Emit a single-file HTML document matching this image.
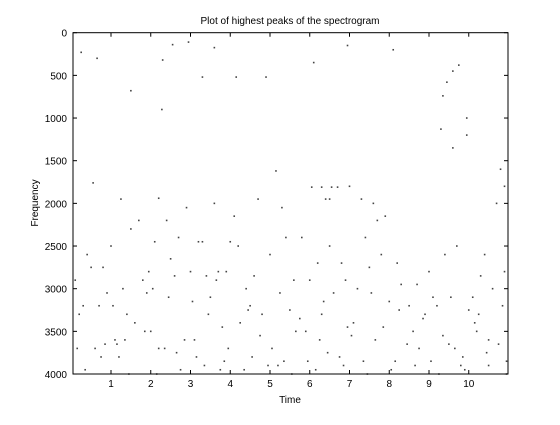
<!DOCTYPE html>
<html><head><meta charset="utf-8"><style>
body{margin:0;background:#fff;font-family:"Liberation Sans",sans-serif}
svg text{font-family:"Liberation Sans",sans-serif;font-size:10px}
</style></head><body>
<svg id="c" width="560" height="420">
<rect width="560" height="420" fill="#fff"/>
<text x="290" y="24" text-anchor="middle">Plot of highest peaks of the spectrogram</text>
<text x="290" y="403" text-anchor="middle">Time</text>
<text transform="translate(38,203) rotate(-90)" text-anchor="middle">Frequency</text>
<g id="ticks"></g><g id="pts"></g>
<rect x="73" y="32.7" width="435" height="341.3" fill="none" stroke="#000"/>
</svg>
<script>
const xTicks=[1,2,3,4,5,6,7,8,9,10];
const yTicks=[0,500,1000,1500,2000,2500,3000,3500,4000];
const times=[0.25,0.65,1.5,2.3,2.28,2.55,2.95,3.3,3.6,4.15,4.9,6.1,6.95,8.1,9.6,9.75,9.45,9.35,9.95,9.95,9.6,9.3,0.55,1.25,2.2,5.15,6.05,6.3,6.55,6.7,6.4,6.5,7.0,7.3,7.6,7.9,5.3,4.7,10.8,10.9,10.7,3.6,4.1,
0.1,0.3,0.5,0.6,0.8,0.9,1.0,1.1,1.2,1.3,1.4,1.5,1.7,1.8,1.9,2.0,2.1,2.2,2.4,2.5,2.6,2.7,2.9,3.0,3.1,3.2,3.3,3.4,3.5,3.7,3.8,3.9,4.0,4.2,4.4,4.5,4.6,4.8,5.0,5.2,5.4,5.5,5.6,5.8,5.9,6.0,6.2,6.3,6.5,6.6,6.8,6.9,7.1,7.2,7.4,7.5,7.7,7.8,8.0,8.2,8.3,8.5,8.6,8.7,8.9,9.0,9.1,9.2,9.4,9.5,9.7,9.8,10.0,10.1,10.2,10.3,10.4,10.5,10.6,10.9,
0.2,0.4,0.7,0.85,1.05,1.35,1.6,1.85,2.05,2.35,2.65,2.85,3.15,3.45,3.75,3.95,4.25,4.55,4.75,5.05,5.35,5.65,5.95,6.25,6.45,6.75,7.05,7.35,7.65,7.85,8.15,8.45,8.75,9.05,9.35,9.65,9.85,10.15,10.45,10.75,10.95,
0.15,0.75,1.45,2.15,2.75,3.35,3.85,4.35,4.95,5.55,6.15,6.85,7.45,8.05,8.65,9.25,9.9,10.5,10.95,
0.35,1.15,1.95,2.45,3.05,3.65,4.45,5.25,5.75,6.35,6.95,7.55,8.25,8.85,9.55,10.25,10.85];
const freqs=[230,300,680,320,900,140,110,520,175,520,520,350,150,200,450,380,580,740,1000,1200,1350,1130,1760,1950,1940,1620,1810,1810,1810,1810,1950,1950,1800,1950,2000,2150,2050,1950,1600,1800,2000,2000,2150,
2900,3200,2750,3700,2750,3050,2500,3600,3800,3000,3300,2300,2200,2900,3050,3500,2450,3700,2200,2650,2850,2400,2050,2800,3600,2450,2450,2850,3100,2800,3450,2800,2450,2500,3000,3200,2850,3300,2600,3900,2400,3250,2900,2400,3500,2900,2700,3300,2500,3050,2700,2900,3400,3000,2400,2750,2200,2600,3150,2700,2950,3200,3500,2950,3300,2800,3100,3200,2600,3650,2500,3900,3250,3100,3500,2850,2600,3600,3000,2800,3300,2600,
3200,3650,3200,3600,3400,3500,3000,3700,3750,3600,3800,3300,3950,3700,3400,3800,3550,3700,3850,3500,3850,3600,3750,3800,3550,3850,3600,3450,3850,3650,3700,3850,3550,3700,3800,3400,3750,3650,3850,3700,3800,
4000,4000,3950,3900,3850,3950,3900,4000,3950,3900,4000,3950,3900,4000,3950,3900,4000,3950,3650,
2800,3100,3150,2900,3250,3050,3350,3150,3450,3050,3250,3350,3100,3300,3200,3000,3250];
const X=t=>71.25+t*39.75, Y=f=>32.7+f*0.08533;
const tg=document.getElementById('ticks');
const NS='http://www.w3.org/2000/svg';
function mk(tag,a,p){const e=document.createElementNS(NS,tag);for(const k in a)e.setAttribute(k,a[k]);p.appendChild(e);return e;}
xTicks.forEach(v=>{const x=X(v);
 mk('line',{x1:x,x2:x,y1:374,y2:370,stroke:'#000'},tg);
 mk('line',{x1:x,x2:x,y1:32.7,y2:36.7,stroke:'#000'},tg);
 const t=mk('text',{x:x,y:387,'text-anchor':'middle'},tg);t.textContent=v;
 
 });
yTicks.forEach(v=>{const y=Y(v);
 mk('line',{x1:73,x2:77,y1:y,y2:y,stroke:'#000'},tg);
 mk('line',{x1:508,x2:504,y1:y,y2:y,stroke:'#000'},tg);
 const t=mk('text',{x:67,y:y+4,'text-anchor':'end'},tg);t.textContent=v;
 
 });
const pg=document.getElementById('pts');
times.forEach((t,i)=>{if(freqs[i]===undefined)return;
 const r=mk('rect',{x:X(t)-0.8,y:Y(freqs[i])-0.8,width:1.6,height:1.6,fill:'#444'},pg);
 
 });
</script>
</body></html>
